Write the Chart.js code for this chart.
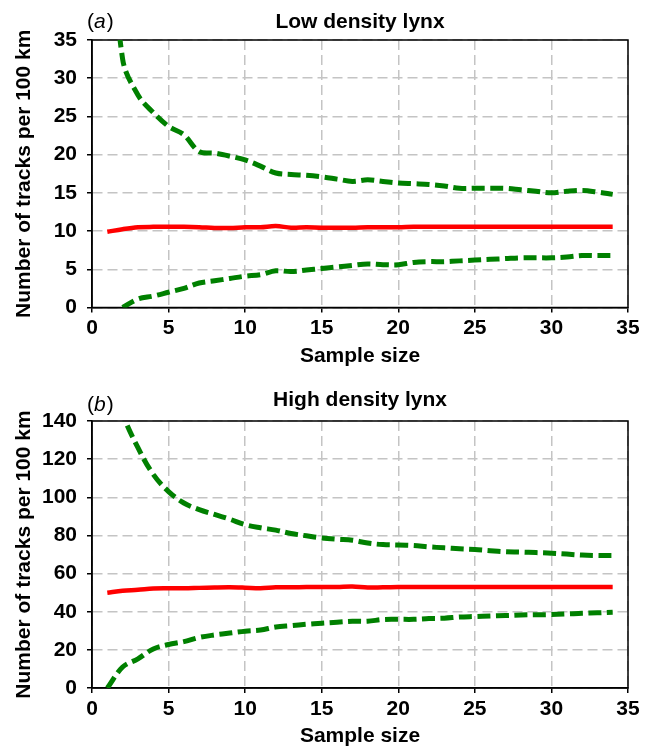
<!DOCTYPE html>
<html lang="en">
<head>
    <meta charset="UTF-8">
    <title>Lynx tracks by sample size</title>
    <style>
        body {
            margin: 0;
            background: #fff;
        }

        .panel {
            position: absolute;
            left: 0;
            width: 656px;
            height: 375px;
        }

        #panel-a { top: 0; }
        #panel-b { top: 375px; }
    </style>
    <script src="https://cdn.jsdelivr.net/npm/chart.js"></script>
</head>
<body>
    <div class="panel" id="panel-a"><canvas id="chart-a"></canvas></div>
    <div class="panel" id="panel-b"><canvas id="chart-b"></canvas></div>
    <script>
        // sample size (x) shared by both panels
        const sampleSize = [1, 2, 3, 4, 5, 6, 7, 8, 9, 10, 11, 12, 13, 14, 15, 16, 17,
            18, 19, 20, 21, 22, 23, 24, 25, 26, 27, 28, 29, 30, 31, 32, 33, 34];

        // (a) low density lynx
        const lowUpper = [55, 32.5, 27.8, 25.5, 23.7, 22.6, 20.4, 20.2, 19.8, 19.3, 18.5, 17.6, 17.4, 17.3,
            17.1, 16.8, 16.5, 16.7, 16.5, 16.3, 16.2, 16.1, 15.9, 15.6, 15.6, 15.6, 15.6, 15.4,
            15.2, 15.0, 15.2, 15.3, 15.1, 14.8];
        const lowMean = [9.9, 10.25, 10.5, 10.55, 10.55, 10.55, 10.5, 10.4, 10.4, 10.5, 10.5, 10.65, 10.45,
            10.5, 10.45, 10.45, 10.45, 10.5, 10.5, 10.5, 10.55, 10.55, 10.55, 10.55, 10.55, 10.55,
            10.55, 10.55, 10.55, 10.55, 10.55, 10.55, 10.55, 10.55];
        const lowLower = [null, 0, 1.1, 1.5, 2.0, 2.5, 3.2, 3.5, 3.8, 4.1, 4.3, 4.8, 4.7, 4.9, 5.1, 5.3,
            5.5, 5.7, 5.6, 5.6, 5.9, 6.0, 6.0, 6.1, 6.2, 6.3, 6.4, 6.5, 6.5, 6.5, 6.6, 6.8, 6.8, 6.8];

        // (b) high density lynx
        const highUpper = [175, 144, 126, 112, 103, 97, 93.5, 91, 88.5, 85.6, 84, 82.8, 81, 79.8, 78.7,
            78, 77.5, 76, 75.2, 75, 74.7, 74, 73.5, 73, 72.6, 72, 71.5, 71.3, 71, 70.7, 70.2, 69.7,
            69.5, 69.5];
        const highMean = [50, 51, 51.5, 52.2, 52.3, 52.3, 52.5, 52.7, 52.8, 52.6, 52.3, 52.8, 52.8, 52.9,
            53, 53, 53.2, 52.7, 52.8, 52.9, 52.9, 52.9, 52.9, 52.9, 52.9, 52.9, 52.9, 52.9, 52.9,
            52.9, 52.9, 52.9, 52.9, 52.9];
        const highLower = [0, 11, 15.3, 20.5, 22.8, 24.3, 26.5, 27.8, 28.8, 29.8, 30.4, 32, 32.7, 33.4, 34,
            34.5, 35, 35, 35.9, 36, 36, 36.4, 36.6, 37.2, 37.5, 37.8, 38, 38.3, 38.4, 38.5, 38.8,
            39.2, 39.4, 39.7];

        const xTicks = [0, 5, 10, 15, 20, 25, 30, 35];

        const fontFamily = "'Liberation Sans', Arial, Helvetica, sans-serif";
        const boldFont = { family: fontFamily, size: 21, weight: 'bold', lineHeight: 1.2 };
        const green = '#008000';
        const red = '#ff0000';

        function points(values) {
            return sampleSize.map((n, i) => ({ x: n, y: values[i] }));
        }

        function series(values, color, dashed) {
            return {
                data: points(values),
                borderColor: color,
                borderWidth: dashed ? 5 : 4.5,
                borderDash: dashed ? [13, 5.5] : [],
                pointRadius: 0,
                fill: false,
                tension: 0.35
            };
        }

        const frame = {
            id: 'frame',
            beforeDatasetsDraw(chart) {
                const { ctx, chartArea: a } = chart;
                ctx.save();
                ctx.strokeStyle = '#000';
                ctx.lineWidth = 1.5;
                ctx.strokeRect(a.left, a.top, a.right - a.left, a.bottom - a.top);
                ctx.restore();
            }
        };

        // panel letter "(a)" with italic letter
        const panelTag = {
            id: 'panelTag',
            afterDraw(chart, args, opts) {
                const ctx = chart.ctx;
                const regular = '21px ' + fontFamily;
                ctx.save();
                ctx.fillStyle = '#000';
                ctx.textBaseline = 'alphabetic';
                ctx.textAlign = 'left';
                let x = 87;
                ctx.font = regular;
                ctx.fillText('(', x, opts.y);
                x += ctx.measureText('(').width;
                ctx.font = 'italic ' + regular;
                ctx.fillText(opts.letter, x, opts.y);
                x += ctx.measureText(opts.letter).width + 1;
                ctx.font = regular;
                ctx.fillText(')', x, opts.y);
                ctx.restore();
            }
        };

        function makeChart(id, cfg) {
            return new Chart(document.getElementById(id), {
                type: 'line',
                data: {
                    datasets: [
                        series(cfg.upper, green, true),
                        series(cfg.mean, red, false),
                        series(cfg.lower, green, true)
                    ]
                },
                options: {
                    responsive: true,
                    maintainAspectRatio: false,
                    animation: false,
                    layout: { padding: { left: 0, right: 28, top: 0, bottom: 0 } },
                    plugins: {
                        legend: { display: false },
                        tooltip: { enabled: false },
                        title: {
                            display: true,
                            text: cfg.title,
                            fullSize: false,
                            color: '#000',
                            font: boldFont,
                            padding: { top: cfg.titleTop, bottom: cfg.titleBottom }
                        },
                        panelTag: { letter: cfg.letter, y: cfg.tagY }
                    },
                    scales: {
                        x: {
                            type: 'linear',
                            min: 0,
                            max: 35,
                            afterBuildTicks: s => { s.ticks = xTicks.map(v => ({ value: v })); },
                            afterFit: s => { s.height = cfg.xHeight; },
                            ticks: { color: '#000', font: boldFont, padding: 3.4, maxRotation: 0 },
                            grid: {
                                color: '#c4c4c4', lineWidth: 1.5,
                                tickColor: '#000', tickLength: 5, tickWidth: 1.5
                            },
                            border: { color: '#000', width: 1.5, dash: [10, 5] },
                            title: {
                                display: true, text: 'Sample size', color: '#000',
                                font: boldFont, padding: { top: 0, bottom: cfg.xTitleBottom }
                            }
                        },
                        y: {
                            min: 0,
                            max: cfg.yMax,
                            afterBuildTicks: s => { s.ticks = cfg.yTicks.map(v => ({ value: v })); },
                            afterFit: s => { s.width = 92; },
                            ticks: { color: '#000', font: boldFont, padding: 10 },
                            grid: {
                                color: '#c4c4c4', lineWidth: 1.5,
                                tickColor: '#000', tickLength: 5, tickWidth: 1.5
                            },
                            border: { color: '#000', width: 1.5, dash: [10, 5] },
                            title: {
                                display: true, text: 'Number of tracks per 100 km', color: '#000',
                                font: boldFont, padding: { top: 12, bottom: 0 }
                            }
                        }
                    }
                },
                plugins: [frame, panelTag]
            });
        }

        makeChart('chart-a', {
            title: 'Low density lynx', letter: 'a', tagY: 28,
            upper: lowUpper, mean: lowMean, lower: lowLower,
            yMax: 35, yTicks: [0, 5, 10, 15, 20, 25, 30, 35],
            titleTop: 9.3, titleBottom: 5.5, xHeight: 67.5, xTitleBottom: 5.8
        });

        makeChart('chart-b', {
            title: 'High density lynx', letter: 'b', tagY: 36,
            upper: highUpper, mean: highMean, lower: highLower,
            yMax: 140, yTicks: [0, 20, 40, 60, 80, 100, 120, 140],
            titleTop: 12.7, titleBottom: 8.1, xHeight: 62, xTitleBottom: 1.4
        });
    </script>
</body>
</html>
